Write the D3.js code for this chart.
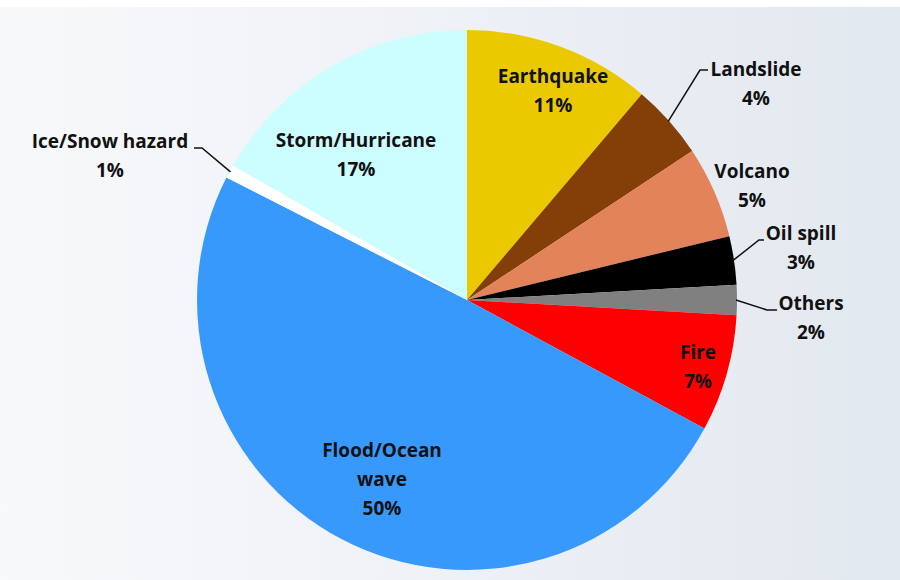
<!DOCTYPE html>
<html>
<head>
<meta charset="utf-8">
<script src="https://cdn.jsdelivr.net/npm/d3@7"></script>
<style>
  body { margin: 0; background: #fff; }
  svg text { font-family: "Open Sans", sans-serif; font-weight: 700; font-size: 19px; fill: #111; }
</style>
</head>
<body>
<svg id="chart" width="900" height="580"></svg>
<script>
// slices clockwise from 12 o'clock
var categories = ["Earthquake", "Landslide", "Volcano", "Oil spill", "Others", "Fire", "Flood/Ocean wave", "Ice/Snow hazard", "Storm/Hurricane"];
var shares = [11.2, 4.5, 5.5, 2.9, 1.8, 7.0, 49.6, 0.8, 16.7];
var shownPct = ["11%", "4%", "5%", "3%", "2%", "7%", "50%", "1%", "17%"];
var colors = ["#ebc900", "#833f07", "#e2835a", "#000000", "#808080", "#ff0000", "#3899fd", "#ffffff", "#ccfdff"];

// label placement: inside = text in slice, outside = text beside with optional leader
var labelSpec = [
  { lines: ["Earthquake"], x: 553, y: 83 },
  { lines: ["Landslide"], x: 756, y: 76, leader: [[700, 70], [708, 70]] },
  { lines: ["Volcano"], x: 752, y: 178 },
  { lines: ["Oil spill"], x: 801, y: 240, leader: [[759, 240], [764, 240]] },
  { lines: ["Others"], x: 811, y: 310, leader: [[767, 310], [777, 310]] },
  { lines: ["Fire"], x: 698, y: 359 },
  { lines: ["Flood/Ocean", "wave"], x: 382, y: 457 },
  { lines: ["Ice/Snow hazard"], x: 110, y: 148, leader: [[202, 148], [194, 148]] },
  { lines: ["Storm/Hurricane"], x: 356, y: 147 }
];

var svg = d3.select("#chart");
var cx = 467, cy = 300, radius = 270;

var defs = svg.append("defs");
var grad = defs.append("linearGradient").attr("id", "bg").attr("x1", "0").attr("x2", "1").attr("y1", "0").attr("y2", "0");
grad.append("stop").attr("offset", "0").attr("stop-color", "#f8f9fb");
grad.append("stop").attr("offset", "0.5").attr("stop-color", "#eef1f6");
grad.append("stop").attr("offset", "1").attr("stop-color", "#e2e8ef");
svg.append("rect").attr("x", 0).attr("y", 7).attr("width", 900).attr("height", 573).attr("fill", "url(#bg)");

var data = categories.map(function (c, i) { return { name: c, value: shares[i], pct: shownPct[i], color: colors[i], spec: labelSpec[i] }; });

var pie = d3.pie().value(function (d) { return d.value; }).sort(null);
var arc = d3.arc().innerRadius(0).outerRadius(radius);
var edge = d3.arc().innerRadius(radius - 1).outerRadius(radius - 1);

var g = svg.append("g").attr("transform", "translate(" + cx + "," + cy + ")");
var arcs = pie(data);

g.selectAll("path.slice").data(arcs).enter().append("path")
  .attr("class", "slice")
  .attr("d", arc)
  .attr("fill", function (d) { return d.data.color; });

// leader lines: from the slice edge to the start of the horizontal tick
arcs.forEach(function (a) {
  var s = a.data.spec;
  if (!s.leader) return;
  var p = edge.centroid(a);
  var pts = [[cx + p[0], cy + p[1]]].concat(s.leader);
  svg.append("path")
    .attr("d", d3.line()(pts))
    .attr("fill", "none").attr("stroke", "#111").attr("stroke-width", 1.5);
});

var lh = 29;
data.forEach(function (d) {
  var s = d.spec;
  var t = svg.append("text").attr("text-anchor", "middle");
  s.lines.concat([d.pct]).forEach(function (ln, j) {
    t.append("tspan").attr("x", s.x).attr("y", s.y + j * lh).text(ln);
  });
});
</script>
</body>
</html>
